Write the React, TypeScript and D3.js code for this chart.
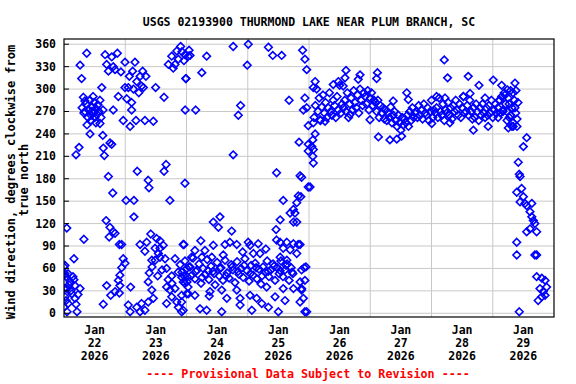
import React from 'react';
import * as d3 from 'd3';

// ---- DATA ----
const titleText = 'USGS 02193900 THURMOND LAKE NEAR PLUM BRANCH, SC';
const yLabelLines = ['Wind direction, degrees clockwise from', 'true north'];
const footerText = '---- Provisional Data Subject to Revision ----';
const yTickValues = [0, 30, 60, 90, 120, 150, 180, 210, 240, 270, 300, 330, 360];
const dayLabels = ['22', '23', '24', '25', '26', '27', '28', '29'];
const monthLabel = 'Jan';
const yearLabel = '2026';

// [hours since Jan 22 2026 00:00, degrees]
const scatterJan22: [number, number][] = [
  [0.0, 62], [0.4, 53], [0.8, 49], [1.6, 53], [2.4, 42], [3.5, 49], [4.3, 37], [6.3, 33], [1.2, 33], [3.1, 26],
  [0.4, 22], [4.3, 20], [1.6, 13], [1.2, 2], [5.1, 2], [0.0, 8], [0.8, 17], [2.7, 30], [3.9, 45], [5.5, 25],
  [2.0, 38], [4.7, 12], [1.1, 114], [7.8, 99], [3.9, 73], [0.0, 33], [0.4, 64], [0.1, 51],
  [5.9, 222], [4.7, 212], [6.3, 332], [6.9, 314], [7.6, 289], [8.2, 284], [8.9, 348], [10.2, 240], [10.9, 270],
  [14.1, 254], [14.8, 302], [15.2, 238], [15.4, 221], [15.8, 211], [16.1, 346], [16.7, 333], [17.4, 324],
  [18.7, 343], [19.3, 330], [20.0, 326], [20.9, 348], [21.3, 290], [19.3, 272], [18.0, 228], [18.7, 226],
  [22.3, 323], [23.2, 258],
  [7.1, 275], [7.8, 268], [8.6, 280], [9.0, 252], [9.4, 262], [9.8, 272], [10.2, 285], [10.6, 258], [11.0, 276],
  [11.4, 268], [11.4, 290], [11.8, 282], [12.1, 262], [12.5, 274], [12.5, 255], [12.9, 266], [13.3, 279],
  [13.7, 270], [14.1, 285], [14.5, 262], [15.3, 272], [8.2, 270], [10.6, 265], [11.8, 270],
  [16.5, 124], [18.0, 115], [20.0, 107], [17.7, 102], [19.3, 109], [21.7, 92], [22.6, 92], [23.2, 73],
  [16.7, 37], [18.3, 24], [21.3, 44], [21.9, 37], [20.0, 29], [21.7, 27], [15.4, 12], [19.1, 161], [17.4, 183],
  [22.6, 61], [21.9, 51],
];

const scatterJan23: [number, number][] = [
  [23.9, 67], [23.9, 336], [23.9, 302], [25.2, 302], [24.6, 287], [26.5, 282], [26.5, 272], [25.9, 250],
  [28.2, 258], [31.7, 258], [35.0, 257], [26.9, 324], [25.6, 317], [27.8, 336], [30.8, 324], [29.8, 317],
  [32.1, 317], [28.5, 310], [30.4, 304], [27.2, 300], [31.1, 302], [29.3, 295], [35.9, 302], [39.2, 289],
  [40.0, 199], [39.2, 190], [28.7, 190], [33.0, 178], [33.3, 168], [47.4, 174], [41.5, 151], [24.3, 151],
  [27.4, 151], [27.4, 129],
  [45.7, 357], [44.2, 351], [42.2, 344], [40.9, 333], [43.5, 333], [44.8, 340], [47.4, 346], [48.7, 344],
  [42.8, 328], [47.8, 314], [47.5, 272], [46.2, 350], [47.0, 338], [49.0, 352], [49.4, 345],
  [26.1, 35], [25.2, 11], [25.9, 2], [28.5, 8], [30.4, 13], [31.7, 4], [33.0, 15], [35.0, 20], [29.8, 2],
  [29.8, 92], [34.0, 106], [32.4, 95], [36.3, 100], [37.6, 97], [35.7, 87], [37.6, 87], [38.9, 91], [37.0, 80],
  [31.7, 83], [34.4, 71], [35.7, 71], [37.6, 75], [39.6, 73], [43.5, 73], [40.2, 60], [42.2, 50], [36.7, 50],
  [33.4, 54], [33.0, 42], [34.4, 31], [40.2, 35], [41.5, 31], [43.5, 33], [42.2, 22], [40.2, 13], [44.2, 15],
  [46.1, 24], [44.8, 8], [46.7, 4], [48.1, 60], [48.3, 49], [47.4, 40], [48.1, 26], [46.7, 92], [34.5, 62],
  [38.4, 58], [40.8, 45], [42.3, 40], [44.7, 55], [46.2, 48], [48.6, 35], [45.5, 65],
];

const scatterJan24: [number, number][] = [
  [51.6, 272], [54.0, 322], [55.9, 344], [47.7, 314], [66.3, 357], [72.2, 360], [71.8, 332], [69.2, 278],
  [68.3, 265], [66.3, 212], [61.1, 129], [58.5, 122], [60.5, 115], [65.7, 110], [47.0, 92],
  [53.6, 97], [58.5, 91], [51.3, 84], [55.2, 84], [50.0, 75], [54.0, 75], [57.9, 75], [63.1, 92], [65.0, 95],
  [67.7, 92], [72.2, 95], [72.9, 91], [70.0, 82], [62.4, 78],
  [46.2, 55], [47.4, 70], [48.2, 42], [49.0, 62], [49.8, 50], [50.6, 74], [51.3, 46], [52.1, 58], [52.9, 66],
  [53.7, 40], [54.5, 60], [55.3, 52], [56.1, 72], [56.8, 45], [57.6, 63], [58.4, 56], [59.2, 38], [60.0, 68],
  [60.8, 50], [61.5, 61], [62.3, 44], [63.1, 71], [63.9, 54], [64.7, 47], [65.5, 65], [66.2, 58], [67.0, 41],
  [67.8, 69], [68.6, 52], [69.4, 60], [70.2, 48], [70.9, 73], [71.7, 57],
  [47.0, 50], [49.4, 62], [51.7, 56], [54.1, 48], [56.4, 57], [58.8, 53], [61.1, 60], [63.5, 50], [65.9, 62],
  [68.2, 56], [70.6, 64],
  [46.7, 42], [48.7, 26], [51.3, 24], [53.3, 6], [55.9, 4], [57.2, 29], [56.9, 23], [61.8, 31], [63.8, 20],
  [61.8, 2], [67.7, 31], [69.0, 20], [69.0, 11], [46.1, 2], [46.1, 15],
];

const scatterJan25: [number, number][] = [
  [74.2, 80], [76.1, 93], [79.1, 86], [76.8, 80],
  [72.5, 43], [73.3, 64], [74.1, 51], [74.9, 67], [75.6, 46], [76.4, 59], [77.2, 39], [78.0, 62], [78.8, 55],
  [79.6, 70], [80.3, 49], [81.1, 58], [81.9, 66], [82.7, 44], [83.5, 61], [84.3, 53], [85.0, 70], [85.8, 49],
  [86.6, 58], [87.4, 66], [88.2, 44], [89.0, 61], [89.7, 53],
  [73.0, 53], [75.3, 61], [77.6, 50], [80.0, 56], [82.3, 63], [84.7, 57], [87.0, 64], [89.4, 55],
  [72.9, 24], [73.6, 4], [75.5, 20], [77.5, 13], [80.1, 8], [79.4, 35], [82.7, 22], [86.6, 17], [85.9, 33],
  [89.9, 33], [93.1, 31], [93.8, 20], [92.5, 15], [94.4, 2], [84.0, 2],
  [80.1, 356], [81.8, 345], [85.3, 345], [88.2, 285], [83.3, 188], [92.5, 184], [95.7, 169], [85.9, 151],
  [91.8, 157], [91.2, 148], [89.9, 139], [88.6, 134], [90.5, 134], [91.2, 122], [89.9, 122], [84.7, 125],
  [83.1, 112],
  [83.3, 98], [84.7, 95], [87.3, 95], [89.9, 93], [91.8, 92], [85.9, 87], [88.6, 85], [91.2, 80], [87.3, 71],
  [84.7, 75], [93.1, 58], [94.8, 62], [92.5, 42], [94.4, 44],
  [93.5, 352], [94.4, 340], [95.1, 326], [94.4, 288], [93.8, 272], [95.1, 275], [95.7, 251], [92.1, 229],
  [95.7, 226], [95.7, 217], [93.1, 182], [96.4, 169], [92.8, 156], [92.5, 92], [94.1, 61], [93.1, 33],
  [95.1, 2], [97.7, 255], [98.4, 240], [97.5, 232], [97.1, 223], [97.7, 219], [97.5, 210], [97.7, 201],
  [98.4, 310], [97.7, 302],
];

// regular half-hourly series starting Jan 26 02:00
const bandStartHour = 98;
const bandStepHours = 0.5;
const bandDirections: number[] = [
  262, 278, 300, 270, 288, 258, 276, 292,
  268, 282, 262, 275, 295, 270, 265, 285,
  278, 262, 290, 272, 305, 268, 280, 275,
  285, 270, 295, 262, 280, 288, 272, 298,
  282, 275, 292, 268, 300, 285, 278, 295,
  290, 280, 298, 272, 288, 295, 278, 285,
  282, 270, 285, 262, 278, 268, 275, 260,
  272, 258, 268, 262, 276, 255, 265, 270,
  258, 250, 265, 255, 245, 262, 252, 260,
  255, 265, 250, 270, 258, 275, 262, 268,
  270, 262, 278, 265, 272, 260, 280, 268,
  265, 275, 258, 270, 285, 262, 272, 268,
  275, 262, 288, 270, 265, 280, 258, 272,
  268, 282, 265, 275, 260, 278, 270, 285,
  272, 265, 280, 262, 275, 290, 268, 270,
  278, 265, 285, 270, 260, 275, 262, 280,
  270, 258, 275, 265, 280, 268, 262, 275,
  265, 278, 268, 285, 262, 272, 280, 268,
  275, 285, 268, 290, 272, 295, 280, 270,
  288, 262, 298, 275, 255, 285, 268, 250,
];

const scatterJan26to29: [number, number][] = [
  [110.5, 325], [110.1, 315], [116.0, 319], [115.3, 313], [122.8, 322], [122.5, 314], [105.5, 306],
  [107.5, 310], [109.4, 304], [123.2, 236], [127.7, 232], [130.4, 233], [132.3, 237], [119.9, 259],
  [134.3, 295], [134.9, 286], [129.0, 284], [102.3, 257], [100.3, 259], [112.1, 266],
  [149.0, 339], [150.3, 315], [158.4, 317], [162.6, 305], [168.2, 312], [171.5, 305], [176.7, 308],
  [173.7, 299], [146.0, 290], [149.3, 288], [156.5, 290], [159.1, 294], [165.0, 288], [160.4, 245],
  [166.2, 250], [174.1, 248], [176.0, 250], [151.2, 255], [144.1, 254],
  [170.1, 262], [170.8, 285], [172.0, 270], [172.8, 292], [173.6, 258], [174.4, 280], [175.1, 265],
  [175.9, 295], [176.7, 275], [177.5, 260], [175.5, 250], [177.9, 282], [177.1, 298],
];

const dropJan29: [number, number][] = [
  [181.3, 235], [180.0, 223], [178.0, 202], [178.4, 186], [178.7, 183], [177.4, 162], [179.3, 167],
  [180.0, 156], [178.7, 149], [180.6, 147], [183.3, 147], [181.3, 144], [182.6, 136], [183.3, 129],
  [183.9, 124], [184.5, 120], [182.6, 113], [185.2, 109], [181.3, 109], [177.4, 95], [177.4, 78],
  [184.5, 78], [185.2, 78], [185.2, 49], [187.2, 47], [188.5, 44], [186.5, 33], [187.8, 29], [189.1, 35],
  [187.2, 22], [185.8, 17], [188.5, 24], [178.4, 2],
];

// ---- CHART ----
const W = 576;
const H = 384;
const left = 64;
const right = 554;
const top = 39;
const bottom = 317;

const startDate = new Date(2026, 0, 22);
const endDate = new Date(2026, 0, 30);
const HOUR = 3600 * 1000;

const font = '"DejaVu Sans Mono", monospace';

export default function App() {
  const x = d3.scaleTime().domain([startDate, endDate]).range([left, right]);
  const y = d3.scaleLinear().domain([-5, 367]).range([bottom, top]);

  const hourToDate = (h: number) => new Date(startDate.getTime() + h * HOUR);

  const allPoints: [number, number][] = [
    ...scatterJan22,
    ...scatterJan23,
    ...scatterJan24,
    ...scatterJan25,
    ...bandDirections.map((v, i) => [bandStartHour + i * bandStepHours, v] as [number, number]),
    ...scatterJan26to29,
    ...dropJan29,
  ];

  const dayTicks = d3.timeDay.range(d3.timeDay.offset(startDate, 1), endDate);
  const labelDays = d3.timeDay.range(startDate, endDate);

  const r = 3.8;
  const diamond = `M0,${-r}L${r},0L0,${r}L${-r},0Z`;

  return (
    <svg width={W} height={H} style={{ position: 'absolute', left: 0, top: 0, background: '#fff' }}
      fontFamily={font} fontWeight="bold">
      <rect x={0} y={0} width={W} height={H} fill="#fff" />
      <text x={(left + right) / 2} y={26} textAnchor="middle" fontSize={11.5} fill="#000">{titleText}</text>

      {/* grid */}
      {yTickValues.map((v) => (
        <line key={'gy' + v} x1={left} x2={right} y1={y(v)} y2={y(v)} stroke="#c8c8c8" strokeWidth={1} />
      ))}
      {dayTicks.map((d, i) => (
        <line key={'gx' + i} x1={x(d)} x2={x(d)} y1={top} y2={bottom} stroke="#c8c8c8" strokeWidth={1} />
      ))}

      {/* points */}
      <g clipPath="url(#plotclip)">
        {allPoints.map(([h, v], i) => (
          <path key={i} d={diamond} transform={`translate(${x(hourToDate(h))},${y(v)})`}
            fill="none" stroke="#0000ff" strokeWidth={1.6} />
        ))}
      </g>
      <defs>
        <clipPath id="plotclip">
          <rect x={left} y={top} width={right - left} height={bottom - top} />
        </clipPath>
      </defs>

      {/* frame */}
      <rect x={left} y={top} width={right - left} height={bottom - top} fill="none" stroke="#000" strokeWidth={1.2} />

      {/* y ticks */}
      {yTickValues.map((v) => (
        <g key={'yt' + v}>
          <line x1={left} x2={left + 5} y1={y(v)} y2={y(v)} stroke="#000" strokeWidth={1} />
          <text x={56} y={y(v) + 4} textAnchor="end" fontSize={11.5} fill="#000">{v}</text>
        </g>
      ))}

      {/* x labels at noon */}
      {labelDays.map((d, i) => {
        const cx = x(d3.timeHour.offset(d, 12));
        return (
          <g key={'xl' + i}>
            <text x={cx} y={334} textAnchor="middle" fontSize={11.5} fill="#000">{monthLabel}</text>
            <text x={cx} y={347} textAnchor="middle" fontSize={11.5} fill="#000">{dayLabels[i]}</text>
            <text x={cx} y={359.5} textAnchor="middle" fontSize={11.5} fill="#000">{yearLabel}</text>
          </g>
        );
      })}

      {/* y label */}
      <text transform={`translate(15,${(top + bottom) / 2 + 4}) rotate(-90)`} textAnchor="middle" fontSize={12} fill="#000">
        {yLabelLines[0]}
      </text>
      <text transform={`translate(28,${(top + bottom) / 2 + 2}) rotate(-90)`} textAnchor="middle" fontSize={12} fill="#000">
        {yLabelLines[1]}
      </text>

      <text x={308} y={378} textAnchor="middle" fontSize={11.7} fill="#ff0000">{footerText}</text>
    </svg>
  );
}
